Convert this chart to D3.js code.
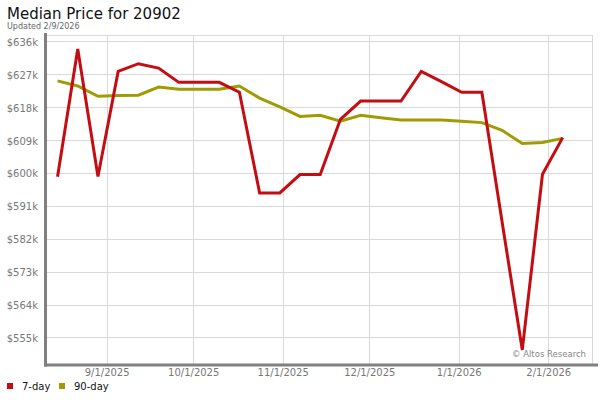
<!DOCTYPE html>
<html>
<head>
<meta charset="utf-8">
<script src="https://cdn.jsdelivr.net/npm/d3@7"></script>
<style>
  html, body { margin: 0; padding: 0; background: #fff; }
  svg { display: block; font-family: "DejaVu Sans", sans-serif; }
</style>
</head>
<body>
<svg id="chart" width="600" height="400"></svg>
<script>
const title = "Median Price for 20902";
const subtitle = "Updated 2/9/2026";
const dates = ["2025-08-15","2025-08-22","2025-08-29","2025-09-05","2025-09-12","2025-09-19","2025-09-26",
  "2025-10-03","2025-10-10","2025-10-17","2025-10-24","2025-10-31","2025-11-07","2025-11-14","2025-11-21",
  "2025-11-28","2025-12-05","2025-12-12","2025-12-19","2025-12-26","2026-01-02","2026-01-09","2026-01-16",
  "2026-01-23","2026-01-30","2026-02-06"];
const sevenDay = [598.9, 633.8, 599.0, 627.7, 629.8, 628.6, 624.7, 624.7, 624.7, 622.0, 594.5, 594.5, 599.5,
  599.5, 614.6, 619.6, 619.6, 619.6, 627.7, 624.9, 622.0, 622.0, 586.6, 551.6, 599.6, 609.6];
const ninetyDay = [625.1, 623.7, 620.9, 621.1, 621.2, 623.4, 622.8, 622.8, 622.8, 623.7, 620.4, 618.0, 615.4,
  615.7, 614.1, 615.7, 615.0, 614.4, 614.4, 614.4, 614.1, 613.7, 611.6, 608.0, 608.3, 609.4];
const seriesNames = ["7-day", "90-day"];
const seriesColors = ["#c40d12", "#a09b05"];
const yTicks = [555, 564, 573, 582, 591, 600, 609, 618, 627, 636];
const xTickDates = ["2025-09-01","2025-10-01","2025-11-01","2025-12-01","2026-01-01","2026-02-01"];

(function () {
const parse = d3.timeParse("%Y-%m-%d");
const fmtX = d => `${d.getMonth()+1}/${d.getDate()}/${d.getFullYear()}`;
const svg = d3.select("#chart");

const pLeft = 46, pRight = 593, pTop = 35, pBottom = 364;
const x = d3.scaleTime()
  .domain([new Date(2025, 7, 11, 0), new Date(2026, 1, 16, 12)])
  .range([pLeft, pRight]);
const y = d3.scaleLinear().domain([547.75, 637.64]).range([pBottom, pTop]);

// title
svg.append("text").attr("x", 7).attr("y", 19).attr("font-size", 15).attr("fill", "#111").text(title);
svg.append("text").attr("x", 7).attr("y", 29).attr("font-size", 8).attr("fill", "#666").text(subtitle);

// plot border
svg.append("rect").attr("x", pLeft).attr("y", pTop + 0.5).attr("width", pRight - pLeft - 0.5).attr("height", pBottom - pTop)
  .attr("fill", "none").attr("stroke", "#d9d9d9").attr("stroke-width", 1);

// gridlines
const g = svg.append("g");
g.selectAll(".hg").data(yTicks).join("line")
  .attr("x1", pLeft).attr("x2", pRight)
  .attr("y1", d => Math.round(y(d)) + 0.5).attr("y2", d => Math.round(y(d)) + 0.5)
  .attr("stroke", "#d9d9d9").attr("stroke-width", 1);
const xTicks = xTickDates.map(parse);
g.selectAll(".vg").data(xTicks).join("line")
  .attr("x1", d => Math.round(x(d)) + 0.5).attr("x2", d => Math.round(x(d)) + 0.5)
  .attr("y1", pTop).attr("y2", pBottom)
  .attr("stroke", "#d9d9d9").attr("stroke-width", 1);

// axes via d3
const yAxis = svg.append("g").attr("transform", `translate(${pLeft - 8},1)`)
  .call(d3.axisLeft(y).tickValues(yTicks).tickSize(0).tickPadding(0).tickFormat(d => `$${d}k`));
yAxis.select(".domain").remove();
yAxis.selectAll("text").attr("font-size", 10).attr("fill", "#777").attr("font-family", "DejaVu Sans, sans-serif");

const xAxis = svg.append("g").attr("transform", `translate(0,${pBottom + 3})`)
  .call(d3.axisBottom(x).tickValues(xTicks).tickSize(0).tickPadding(2).tickFormat(fmtX));
xAxis.select(".domain").remove();
xAxis.selectAll("text").attr("font-size", 10).attr("fill", "#777").attr("font-family", "DejaVu Sans, sans-serif");

// thick axis lines
svg.append("line").attr("x1", 45.5).attr("x2", 45.5).attr("y1", 33).attr("y2", pBottom + 2.5)
  .attr("stroke", "#808080").attr("stroke-width", 3);
svg.append("line").attr("x1", 44).attr("x2", 598).attr("y1", pBottom + 1).attr("y2", pBottom + 1)
  .attr("stroke", "#808080").attr("stroke-width", 3);

// watermark
svg.append("text").attr("x", 586).attr("y", 357).attr("text-anchor", "end")
  .attr("font-size", 8.5).attr("fill", "#888").text("\u00A9 Altos Research");

// lines
const series = [sevenDay, ninetyDay];
const dd = dates.map(parse);
const line = d3.line().x((d, i) => x(dd[i])).y(d => y(d));
[1, 0].forEach(k => {
  svg.append("path").datum(series[k]).attr("d", line)
    .attr("fill", "none").attr("stroke", seriesColors[k]).attr("stroke-width", 3)
    .attr("stroke-linejoin", "miter").attr("stroke-linecap", "butt");
});

// legend
const leg = svg.append("g");
const legX = [7, 59];
seriesNames.forEach((n, i) => {
  leg.append("rect").attr("x", legX[i]).attr("y", 383).attr("width", 6).attr("height", 6).attr("fill", seriesColors[i]);
  leg.append("text").attr("x", legX[i] + 15).attr("y", 390).attr("font-size", 10).attr("fill", "#111").text(n);
});
})();
</script>
</body>
</html>
